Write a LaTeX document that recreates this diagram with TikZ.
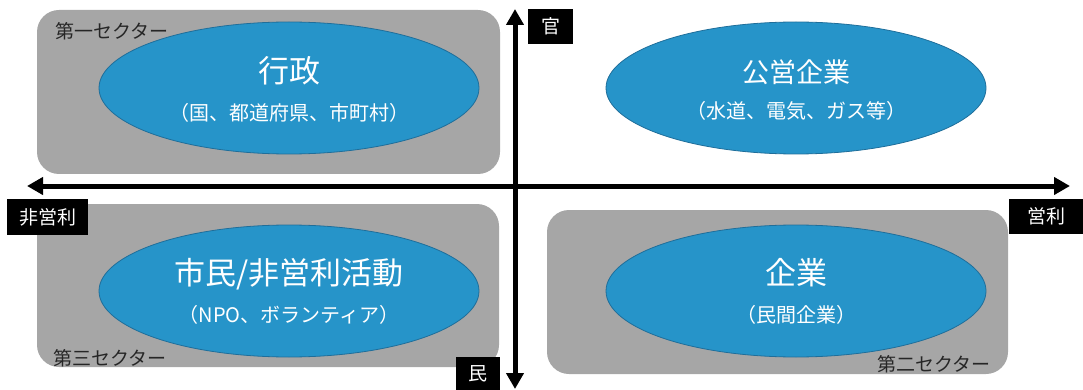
\documentclass[tikz,border=0pt]{standalone}
\usepackage{fontspec}
\setmainfont{Noto Sans CJK JP}
\usetikzlibrary{shapes.geometric,arrows.meta}
\definecolor{boxgray}{HTML}{A6A6A6}
\definecolor{ellblue}{HTML}{2694C9}
\definecolor{ellborder}{HTML}{1F6E9A}
\definecolor{labtext}{HTML}{262626}
\begin{document}
\begin{tikzpicture}[x=1pt,y=-1pt,
 sector/.style={fill=boxgray, rounded corners=22pt, inner sep=0pt},
 ell/.style={ellipse, fill=ellblue, draw=ellborder, line width=0.8pt, minimum width=380pt, minimum height=132pt, inner sep=0pt},
 ttl/.style={text=white, font=\fontsize{31}{33}\selectfont, inner sep=0pt},
 ttlsmall/.style={text=white, font=\fontsize{27}{30}\selectfont, inner sep=0pt},
 sub/.style={text=white, font=\fontsize{20}{22}\selectfont, inner sep=0pt},
 seclabel/.style={text=labtext, font=\fontsize{19}{21}\selectfont, inner sep=0pt, anchor=west},
 tag/.style={fill=black, text=white, font=\fontsize{19}{21}\selectfont, inner sep=0pt},
 axis/.style={line width=5pt, {Triangle[length=16pt,width=17pt]}-{Triangle[length=16pt,width=17pt]}}
]
\useasboundingbox (0,0) rectangle (1083,390);
% sector boxes
\node[sector, minimum width=463pt, minimum height=164pt] (q1) at (268.5,92) {};
\node[sector, minimum width=462pt, minimum height=163pt] (q3) at (268,285.5) {};
\node[sector, minimum width=461pt, minimum height=164pt] (q4) at (777.5,292) {};
% ellipses
\node[ell] (e1) at (289,88) {};
\node[ell] (e2) at (796,88) {};
\node[ell] (e3) at (289,291) {};
\node[ell] (e4) at (796,291) {};
% titles
\node[ttl] (t1) at (289,71) {行政};
\node[ttlsmall] (t2) at (796,72) {公営企業};
\node[ttl] (t3) at (289,274) {市民/非営利活動};
\node[ttl] (t4) at (796,273) {企業};
% subtitles
\node[sub] (s1) at (289,113) {（国、都道府県、市町村）};
\node[sub] (s2) at (796,111) {（水道、電気、ガス等）};
\node[sub] (s3) at (289,315) {（NPO、ボランティア）};
\node[sub] (s4) at (796,315) {（民間企業）};
% sector labels
\node[seclabel] (l1) at (55,31) {第一セクター};
\node[seclabel] (l3) at (53,358) {第三セクター};
\node[seclabel] (l2) at (877,364) {第二セクター};
% axes
\coordinate (L) at (27,186);
\coordinate (R) at (1070,186);
\coordinate (T) at (515,9);
\coordinate (B) at (515,389);
\draw[axis] (L) -- (R);
\draw[axis] (B) -- (T);
% tags
\node[tag, minimum width=45pt, minimum height=35pt] (kan) at (550.5,26.5) {官};
\node[tag, minimum width=81pt, minimum height=36pt] (hie) at (47.5,217) {非営利};
\node[tag, minimum width=74pt, minimum height=35pt] (ei) at (1046,216.5) {営利};
\node[tag, minimum width=44pt, minimum height=33pt] (min) at (478,373.5) {民};
\end{tikzpicture}
\end{document}
